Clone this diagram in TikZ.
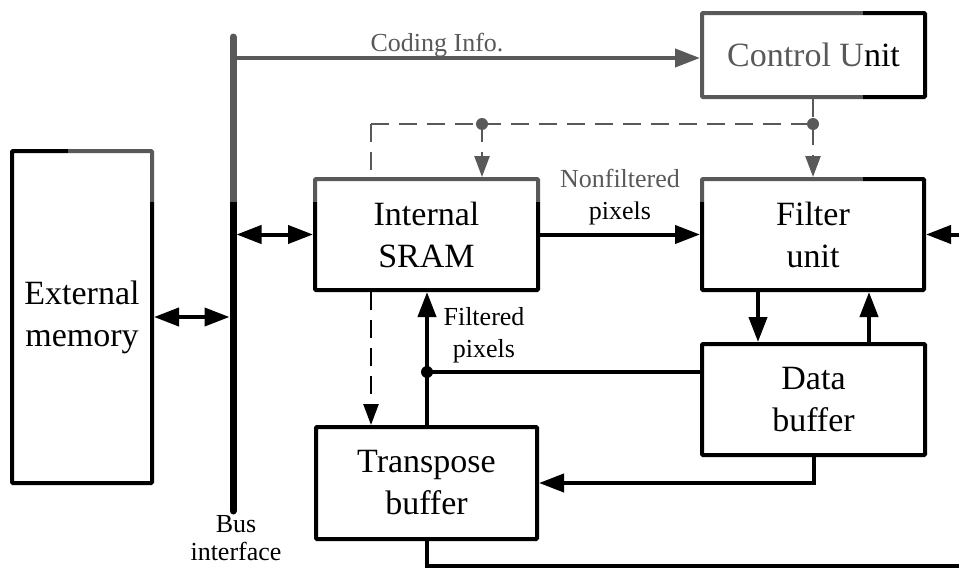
\documentclass[tikz,border=0pt]{standalone}
\usepackage{fontspec}
\setmainfont{Liberation Serif}
\usetikzlibrary{arrows.meta}
\begin{document}
\begin{tikzpicture}[x=1pt,y=-1pt,
  block/.style={draw, line width=4pt, fill=white, rounded corners=1pt, inner sep=0pt,
    align=center, font=\fontsize{34}{42}\selectfont},
  wire/.style={line width=4pt},
  tip/.style={-{Triangle[length=25pt,width=18pt]}},
  bitip/.style={{Triangle[length=25pt,width=18pt]}-{Triangle[length=25pt,width=18pt]}},
  ctl/.style={line width=2.5pt, dash pattern=on 18pt off 10pt},
  ctltip/.style={-{Triangle[length=21pt,width=15pt]}},
  lbl/.style={align=center, inner sep=0pt, font=\fontsize{26}{32}\selectfont},
]
\useasboundingbox (0,0) rectangle (959,570);
\clip (0,0) rectangle (959,570);

% functional blocks
\node[block, minimum width=223pt, minimum height=84pt]  (cu)     at (813.5,55)    {Control Unit};
\node[block, minimum width=223pt, minimum height=111pt] (sram)   at (426.5,234.5) {Internal\\SRAM};
\node[block, minimum width=222pt, minimum height=111pt] (filter) at (813,234.5)   {Filter\\unit};
\node[block, minimum width=223pt, minimum height=111pt] (data)   at (813.5,399.5) {Data\\buffer};
\node[block, minimum width=221pt, minimum height=112pt] (trans)  at (426.5,483)   {Transpose\\buffer};
\node[block, minimum width=140pt, minimum height=332pt] (ext)    at (82,317)      {External\\memory};

% bus interface
\coordinate (busTop) at (233,37);
\coordinate (busBot) at (233,511);
\draw[line width=7pt, line cap=round] (busTop) -- (busBot);
\node[lbl, font=\fontsize{26}{28}\selectfont] (buslbl) at (236,538) {Bus\\interface};

% coding information to the control unit
\coordinate (ci) at (0,58);
\draw[wire,tip] (busTop |- ci) -- (cu.west |- ci);
\node[lbl, anchor=base] (cilbl) at (437,51) {Coding Info.};

% bus connections
\draw[wire,bitip,shorten >=3.5pt] (ext.east) -- (ext.east -| busTop);
\draw[wire,bitip,shorten <=3.5pt] (sram.west -| busTop) -- (sram.west);

% data path
\draw[wire,tip] (sram.east) -- (filter.west);
\node[lbl] (nflbl) at (620,197) {Nonfiltered\\pixels};

\coordinate (fd1) at (758,0);
\coordinate (fd2) at (869,0);
\draw[wire,tip] (filter.south -| fd1) -- (data.north -| fd1);
\draw[wire,tip] (data.north -| fd2) -- (filter.south -| fd2);

\coordinate (fb) at (427,372);
\draw[wire] (data.west |- fb) -- (fb);
\draw[wire,tip] (trans.north -| fb) -- (sram.south -| fb);
\fill (fb) circle (6pt);
\node[lbl] (flbl) at (484,335) {Filtered\\pixels};

\draw[wire,tip] (data.south) |- (trans.east);

\coordinate (loopR) at (975,566);
\draw[wire,tip] (trans.south) |- (loopR) |- (filter.east);

% control signals
\coordinate (dotL) at (482,124);
\coordinate (dotR) at (813,124);
\coordinate (cornerL) at (371,124);
\draw[ctl] (cornerL) -- (dotR);
\draw[ctl] (cornerL) -- (sram.north -| cornerL);
\draw[ctl,ctltip] (sram.south -| cornerL) -- (trans.north -| cornerL);
\draw[ctl,ctltip] (dotL) -- (sram.north -| dotL);
\draw[ctl,ctltip] (cu.south -| dotR) -- (filter.north -| dotR);
\fill (dotL) circle (6pt);
\fill (dotR) circle (6pt);

% faded upper band
\fill[white, opacity=0.35] (68,0) rectangle (863,202);
\end{tikzpicture}
\end{document}
